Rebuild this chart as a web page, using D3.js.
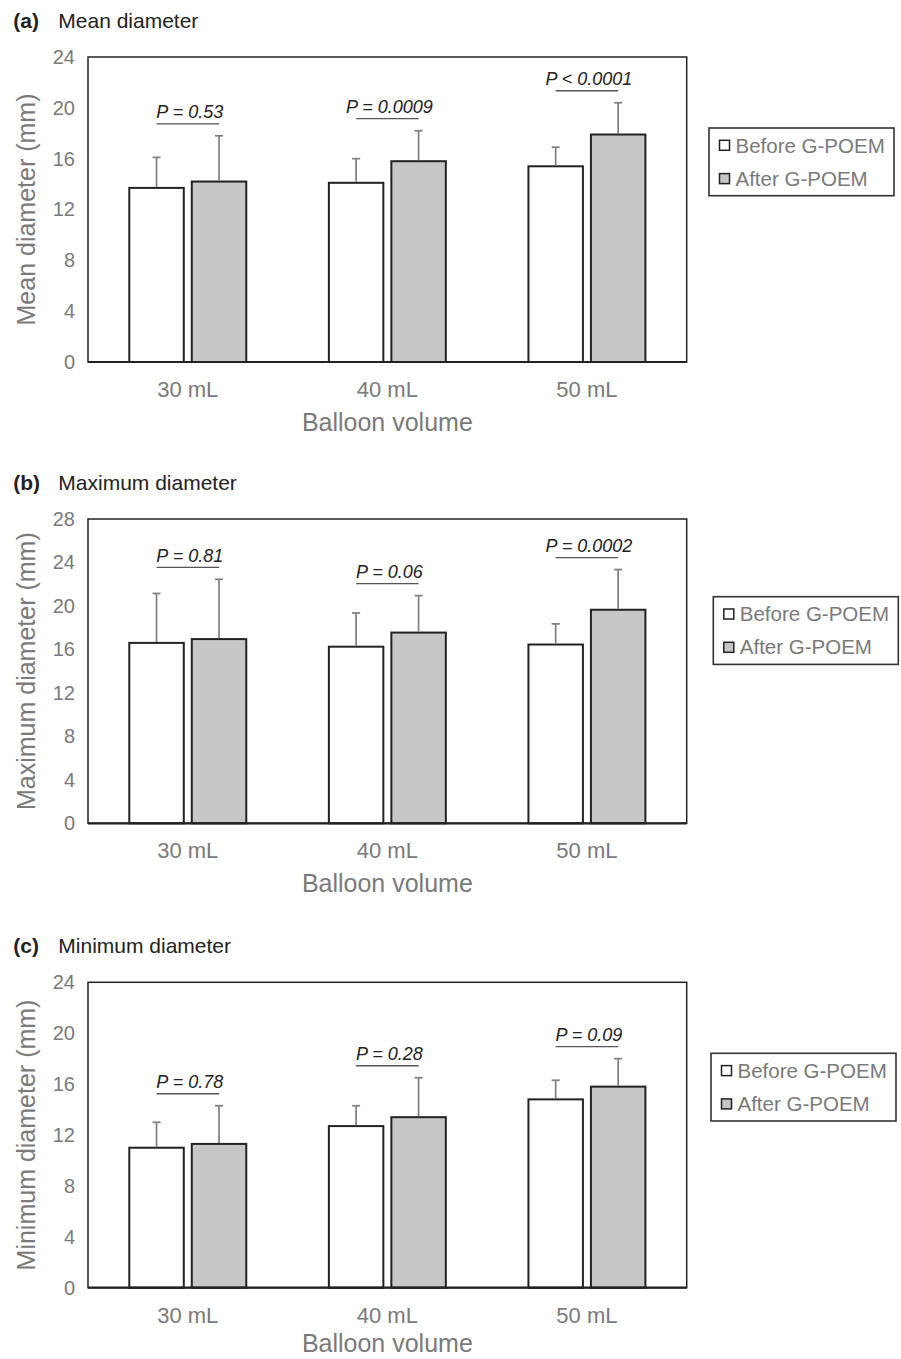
<!DOCTYPE html>
<html>
<head>
<meta charset="utf-8">
<script src="https://cdn.jsdelivr.net/npm/d3@7"></script>
<style>
  html, body { margin: 0; padding: 0; background: #fff; }
  svg { display: block; }
  text { font-family: "Liberation Sans", Arial, Helvetica, sans-serif; }
</style>
</head>
<body>
<svg id="fig" width="901" height="1359"></svg>
<script>
// Balloon volumes on the x axis and the two series shown in every panel
const categories = ["30 mL", "40 mL", "50 mL"];
const seriesNames = ["Before G-POEM", "After G-POEM"];

// (a) Mean diameter (mm): means and upper SD
const meanBefore   = [13.7, 14.1, 15.4];
const meanBeforeSD = [2.4, 1.9, 1.5];
const meanAfter    = [14.2, 15.8, 17.9];
const meanAfterSD  = [3.6, 2.4, 2.5];
const meanP        = ["P = 0.53", "P = 0.0009", "P < 0.0001"];
const meanTicks    = [0, 4, 8, 12, 16, 20, 24];

// (b) Maximum diameter (mm)
const maxBefore   = [16.6, 16.25, 16.45];
const maxBeforeSD = [4.55, 3.1, 1.9];
const maxAfter    = [16.95, 17.55, 19.65];
const maxAfterSD  = [5.5, 3.4, 3.7];
const maxP        = ["P = 0.81", "P = 0.06", "P = 0.0002"];
const maxTicks    = [0, 4, 8, 12, 16, 20, 24, 28];

// (c) Minimum diameter (mm)
const minBefore   = [11.0, 12.7, 14.8];
const minBeforeSD = [2.0, 1.6, 1.5];
const minAfter    = [11.3, 13.4, 15.8];
const minAfterSD  = [3.0, 3.1, 2.2];
const minP        = ["P = 0.78", "P = 0.28", "P = 0.09"];
const minTicks    = [0, 4, 8, 12, 16, 20, 24];

const panels = [
  { tag: "(a)", title: "Mean diameter", yLabel: "Mean diameter (mm)",
    before: meanBefore, beforeSD: meanBeforeSD, after: meanAfter, afterSD: meanAfterSD,
    pLabels: meanP, ticks: meanTicks },
  { tag: "(b)", title: "Maximum diameter", yLabel: "Maximum diameter (mm)",
    before: maxBefore, beforeSD: maxBeforeSD, after: maxAfter, afterSD: maxAfterSD,
    pLabels: maxP, ticks: maxTicks },
  { tag: "(c)", title: "Minimum diameter", yLabel: "Minimum diameter (mm)",
    before: minBefore, beforeSD: minBeforeSD, after: minAfter, afterSD: minAfterSD,
    pLabels: minP, ticks: minTicks }
];

// Page layout of the three stacked panels
const layout = [
  { top: 57,    bottom: 362,    legendX: 709,   legendY: 128 },
  { top: 519,   bottom: 823.3,  legendX: 713.3, legendY: 596.7 },
  { top: 982.3, bottom: 1287.7, legendX: 711,   legendY: 1053.3 }
];
const plotLeft = 88, plotRight = 686.7;
const pageHeight = 1359;

const C = {
  ink: "#222222",
  grayText: "#7a7a7a",
  afterFill: "#c6c7c9",
  errBar: "#7f7f7f",
  pLine: "#555555"
};

const svg = d3.select("#fig");

panels.forEach((p, i) => {
  const L = layout[i];
  const g = svg.append("g");

  const x = d3.scaleBand().domain(categories).range([plotLeft, plotRight]);
  const xs = d3.scaleBand().domain(seriesNames).range([0, x.bandwidth()])
    .paddingInner(0.128).paddingOuter(0.661);
  const y = d3.scaleLinear().domain([0, d3.max(p.ticks)]).range([L.bottom, L.top]);

  // Panel heading
  const head = g.append("text").attr("x", 13.3).attr("y", L.top - 29.5)
    .attr("font-size", 21).attr("fill", C.ink);
  head.append("tspan").attr("font-weight", "bold").text(p.tag);
  g.append("text").attr("x", 58.3).attr("y", L.top - 29.5)
    .attr("font-size", 21).attr("fill", C.ink).text(p.title);

  // Bars for each balloon volume
  const rows = categories.map((c, k) => ({
    cat: c,
    vals: [
      { s: seriesNames[0], v: p.before[k], sd: p.beforeSD[k], fill: "#ffffff" },
      { s: seriesNames[1], v: p.after[k],  sd: p.afterSD[k],  fill: C.afterFill }
    ],
    pLabel: p.pLabels[k]
  }));

  const grp = g.selectAll("g.cat").data(rows).join("g")
    .attr("class", "cat")
    .attr("transform", d => `translate(${x(d.cat)},0)`);

  grp.selectAll("rect").data(d => d.vals).join("rect")
    .attr("x", d => xs(d.s))
    .attr("y", d => y(d.v))
    .attr("width", xs.bandwidth())
    .attr("height", d => y(0) - y(d.v))
    .attr("fill", d => d.fill)
    .attr("stroke", C.ink)
    .attr("stroke-width", 2);

  // Upper SD whiskers
  const eb = grp.selectAll("g.err").data(d => d.vals).join("g").attr("class", "err");
  eb.append("line")
    .attr("x1", d => xs(d.s) + xs.bandwidth() / 2)
    .attr("x2", d => xs(d.s) + xs.bandwidth() / 2)
    .attr("y1", d => y(d.v) - 1)
    .attr("y2", d => y(d.v + d.sd))
    .attr("stroke", C.errBar).attr("stroke-width", 1.7);
  eb.append("line")
    .attr("x1", d => xs(d.s) + xs.bandwidth() / 2 - 4)
    .attr("x2", d => xs(d.s) + xs.bandwidth() / 2 + 4)
    .attr("y1", d => y(d.v + d.sd))
    .attr("y2", d => y(d.v + d.sd))
    .attr("stroke", C.errBar).attr("stroke-width", 1.7);

  // P-value bracket above each pair
  grp.each(function (d) {
    const sel = d3.select(this);
    const c0 = xs(seriesNames[0]) + xs.bandwidth() / 2;
    const c1 = xs(seriesNames[1]) + xs.bandwidth() / 2;
    const topY = d3.min(d.vals, v => y(v.v + v.sd));
    const lineY = topY - 12;
    sel.append("line")
      .attr("x1", c0).attr("x2", c1).attr("y1", lineY).attr("y2", lineY)
      .attr("stroke", C.pLine).attr("stroke-width", 1.3);
    sel.append("text")
      .attr("x", (c0 + c1) / 2 + 2).attr("y", lineY - 5.5)
      .attr("text-anchor", "middle")
      .attr("font-size", 18).attr("font-style", "italic")
      .attr("fill", C.ink)
      .text(d.pLabel);
  });

  // Plot frame and baseline
  g.append("rect")
    .attr("x", plotLeft).attr("y", L.top)
    .attr("width", plotRight - plotLeft).attr("height", L.bottom - L.top)
    .attr("fill", "none").attr("stroke", C.ink).attr("stroke-width", 1.5);
  g.append("line")
    .attr("x1", plotLeft).attr("x2", plotRight).attr("y1", L.bottom).attr("y2", L.bottom)
    .attr("stroke", C.ink).attr("stroke-width", 2.2);

  // Axes
  const yAxis = g.append("g").attr("transform", `translate(${plotLeft},0)`)
    .call(d3.axisLeft(y).tickValues(p.ticks).tickSize(0).tickPadding(13));
  yAxis.select(".domain").remove();
  yAxis.selectAll("text").attr("font-size", 20).attr("fill", C.grayText)
    .style("font-family", '"Liberation Sans", Arial, sans-serif');

  const xAxis = g.append("g").attr("transform", `translate(0,${L.bottom})`)
    .call(d3.axisBottom(x).tickSize(0).tickPadding(19.5));
  xAxis.select(".domain").remove();
  xAxis.selectAll("text").attr("font-size", 22).attr("fill", C.grayText)
    .style("font-family", '"Liberation Sans", Arial, sans-serif');

  // Axis titles (the last one is kept inside the page edge)
  g.append("text")
    .attr("x", (plotLeft + plotRight) / 2)
    .attr("y", Math.min(L.bottom + 69, pageHeight - 7))
    .attr("text-anchor", "middle").attr("font-size", 25).attr("fill", C.grayText)
    .text("Balloon volume");
  g.append("text")
    .attr("transform", `translate(35,${(L.top + L.bottom) / 2}) rotate(-90)`)
    .attr("text-anchor", "middle").attr("font-size", 25).attr("fill", C.grayText)
    .text(p.yLabel);

  // Legend
  const lg = g.append("g").attr("transform", `translate(${L.legendX},${L.legendY})`);
  lg.append("rect").attr("width", 185).attr("height", 67.7)
    .attr("fill", "#fff").attr("stroke", "#333").attr("stroke-width", 1.6);
  seriesNames.forEach((s, j) => {
    const cy = 17.3 + j * 33.3;
    lg.append("rect").attr("x", 10.5).attr("y", cy - 5).attr("width", 10).attr("height", 10)
      .attr("fill", j === 0 ? "#fff" : C.afterFill)
      .attr("stroke", C.ink).attr("stroke-width", 1.5);
    lg.append("text").attr("x", 26.5).attr("y", cy + 7.2)
      .attr("font-size", 20.5).attr("fill", C.grayText).text(s);
  });
});
</script>
</body>
</html>
